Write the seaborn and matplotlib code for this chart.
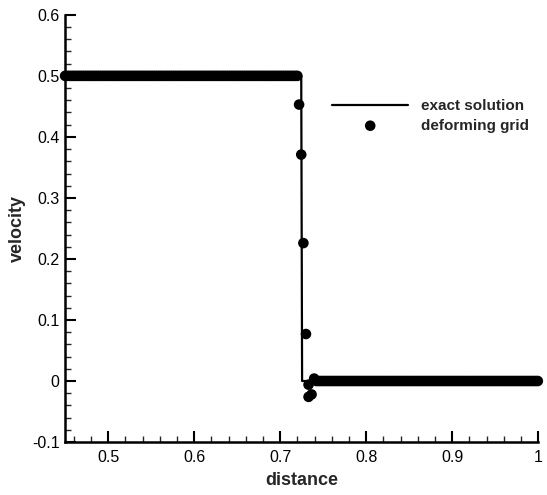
import numpy as np
import pandas as pd
import matplotlib
matplotlib.use("Agg")
import matplotlib.pyplot as plt
import seaborn as sns
from matplotlib.ticker import MultipleLocator

# exact solution (step)
exact_x = [0.45, 0.7245, 0.7255, 1.0]
exact_v = [0.5, 0.5, 0.0, 0.0]

# deforming grid nodes: flat state ahead/behind the shock
left_x = np.round(np.arange(0.45, 0.7201, 0.0025), 4)
left_v = [0.5] * len(left_x)
shock_x = [0.722, 0.7245, 0.727, 0.730, 0.733, 0.733, 0.7365, 0.7395]
shock_v = [0.453, 0.371, 0.226, 0.077, -0.006, -0.026, -0.022, 0.004]
right_x = np.round(np.arange(0.742, 1.0001, 0.0025), 4)
right_v = [0.0] * len(right_x)

grid_x = list(left_x) + shock_x + list(right_x)
grid_v = list(left_v) + shock_v + list(right_v)

exact_df = pd.DataFrame({"distance": exact_x, "velocity": exact_v})
grid_df = pd.DataFrame({"distance": grid_x, "velocity": grid_v})

sns.set_style("ticks")
plt.rcParams["font.family"] = ["Liberation Sans", "DejaVu Sans"]

fig = plt.figure(figsize=(5.47, 4.95), dpi=100)
ax = fig.add_axes([0.119, 0.107, 0.865, 0.863])

sns.lineplot(data=exact_df, x="distance", y="velocity", ax=ax, color="black",
             linewidth=1.6, label="exact solution", estimator=None, sort=False)
sns.scatterplot(data=grid_df, x="distance", y="velocity", ax=ax, color="black",
                s=58, edgecolor="none", label="deforming grid", clip_on=False)

ax.set_xlim(0.45, 1.0)
ax.set_ylim(-0.1, 0.6)
ax.xaxis.set_major_locator(MultipleLocator(0.1))
ax.xaxis.set_minor_locator(MultipleLocator(0.02))
ax.yaxis.set_major_locator(MultipleLocator(0.1))
ax.yaxis.set_minor_locator(MultipleLocator(0.02))
ax.set_xticks([0.5, 0.6, 0.7, 0.8, 0.9, 1.0])
ax.set_xticklabels(["0.5", "0.6", "0.7", "0.8", "0.9", "1"])
ax.set_yticks([-0.1, 0, 0.1, 0.2, 0.3, 0.4, 0.5, 0.6])
ax.set_yticklabels(["-0.1", "0", "0.1", "0.2", "0.3", "0.4", "0.5", "0.6"])

ax.tick_params(which="major", direction="in", length=8, width=1.5, labelsize=11.5, colors="black")
ax.tick_params(which="minor", direction="in", length=4, width=1.0)
ax.tick_params(axis="x", pad=6)
ax.tick_params(axis="y", pad=4)

for side in ["top", "right"]:
    ax.spines[side].set_visible(False)
for side in ["left", "bottom"]:
    ax.spines[side].set_linewidth(1.8)
    ax.spines[side].set_color("black")

ax.set_xlabel("distance", fontsize=13, fontweight="bold", labelpad=5)
ax.set_ylabel("velocity", fontsize=13, fontweight="bold", labelpad=4)

leg = ax.legend(loc="upper left", bbox_to_anchor=(0.548, 0.82), frameon=False,
                prop={"size": 11, "weight": "bold"}, handlelength=5.0,
                handletextpad=0.8, borderpad=0, labelspacing=0.35)

fig.savefig("out.png", dpi=100)
